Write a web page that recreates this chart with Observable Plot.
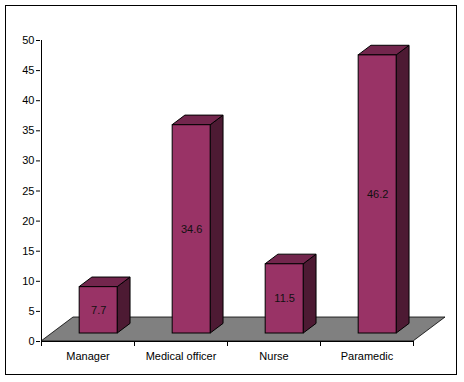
<!DOCTYPE html>
<html><head><meta charset="utf-8">
<script src="https://cdn.jsdelivr.net/npm/d3@7"></script>
<script src="https://cdn.jsdelivr.net/npm/@observablehq/plot@0.6"></script>
<style>
html,body{margin:0;padding:0;background:#fff;}
#wrap{position:relative;width:464px;height:382px;}
#wrap svg{display:block;}
#frame{position:absolute;left:5px;top:5px;width:452px;height:370px;box-sizing:border-box;border:1px solid #000;pointer-events:none;}
</style></head><body><div id="wrap"><div id="frame"></div></div>
<script>
const categories = ["Manager", "Medical officer", "Nurse", "Paramedic"];
const values = [7.7, 34.6, 11.5, 46.2];
const yTicks = [0, 5, 10, 15, 20, 25, 30, 35, 40, 45, 50];

const data = categories.map((c, i) => ({category: c, value: values[i]}));

const W = 464, H = 382, ML = 40, MR = 51, MT = 40, MB = 41;
const FLOOR = [32, -24];   // floor depth offset (px)
const FRONT = 1 / 3;       // bar front face position as fraction of floor depth
const DEPTH = 0.4;         // bar depth as fraction of floor depth
const BARW = 0.41;         // bar width as fraction of band
const C_FRONT = "#993366", C_TOP = "#73264d", C_SIDE = "#4d1a33", C_FLOOR = "#808080";

const band = (W - ML - MR) / categories.length;
const inset = band * (1 - BARW) / 2;
const fdx = FLOOR[0] * FRONT, fdy = FLOOR[1] * FRONT;
const ddx = FLOOR[0] * DEPTH, ddy = FLOOR[1] * DEPTH;

function floorMark(index, {x, y}) {
  const xa = x(categories[0]), xb = x(categories[categories.length - 1]) + x.bandwidth();
  const y0 = y(0);
  const g = d3.create("svg:g");
  g.append("path")
    .attr("fill", C_FLOOR).attr("stroke", "#000").attr("stroke-width", 0.8)
    .attr("d", `M${xa},${y0}L${xa + FLOOR[0]},${y0 + FLOOR[1]}L${xb + FLOOR[0]},${y0 + FLOOR[1]}L${xb},${y0}Z`);
  return g.node();
}

function axesMark(index, {x, y}) {
  const xa = x(categories[0]), xb = x(categories[categories.length - 1]) + x.bandwidth();
  const y0 = y(0), yTop = y(yTicks[yTicks.length - 1]);
  const g = d3.create("svg:g").attr("stroke", "#000").attr("stroke-width", 1).attr("shape-rendering", "crispEdges");
  g.append("line").attr("x1", xa).attr("x2", xa).attr("y1", yTop).attr("y2", y0);
  g.append("line").attr("x1", xa).attr("x2", xb).attr("y1", y0).attr("y2", y0);
  const bounds = categories.map(c => x(c)).concat([xb]);
  for (const b of bounds) g.append("line").attr("x1", b).attr("x2", b).attr("y1", y0).attr("y2", y0 + 5);
  return g.node();
}

function sidesMark(index, {x, y}) {
  const bw = x.bandwidth(), w = bw * BARW;
  const g = d3.create("svg:g").attr("stroke", "#000").attr("stroke-width", 1).attr("stroke-linejoin", "round");
  data.forEach(d => {
    const xl = x(d.category) + (bw - w) / 2 + fdx, xr = xl + w;
    const yb = y(0) + fdy, yt = y(d.value) + fdy;
    g.append("path").attr("fill", C_SIDE)
      .attr("d", `M${xr},${yb}L${xr + ddx},${yb + ddy}L${xr + ddx},${yt + ddy}L${xr},${yt}Z`);
    g.append("path").attr("fill", C_TOP)
      .attr("d", `M${xl},${yt}L${xl + ddx},${yt + ddy}L${xr + ddx},${yt + ddy}L${xr},${yt}Z`);
  });
  return g.node();
}

const plot = Plot.plot({
  width: W, height: H,
  marginLeft: ML, marginRight: MR, marginTop: MT, marginBottom: MB,
  style: {fontFamily: "'Liberation Sans', Arial, sans-serif", fontSize: "11px", background: "transparent", color: "#000"},
  x: {type: "band", domain: categories, padding: 0},
  y: {domain: [0, 50]},
  marks: [
    floorMark,
    axesMark,
    sidesMark,
    Plot.barY(data, {x: "category", y: "value", fill: C_FRONT, stroke: "#000", strokeWidth: 1,
      insetLeft: inset, insetRight: inset, dx: fdx, dy: fdy}),
    Plot.text(data, {x: "category", y: d => d.value / 2, text: d => String(d.value),
      dx: fdx, dy: fdy, fontSize: 11, fill: "#111"}),
    Plot.axisY({ticks: yTicks, tickFormat: d => String(d), tickSize: 4, tickPadding: 2, fontSize: 11, label: null}),
    Plot.axisX({tickSize: 0, tickPadding: 11, fontSize: 11, label: null})
  ]
});
document.getElementById("wrap").insertBefore(plot, document.getElementById("frame"));
</script></body></html>
